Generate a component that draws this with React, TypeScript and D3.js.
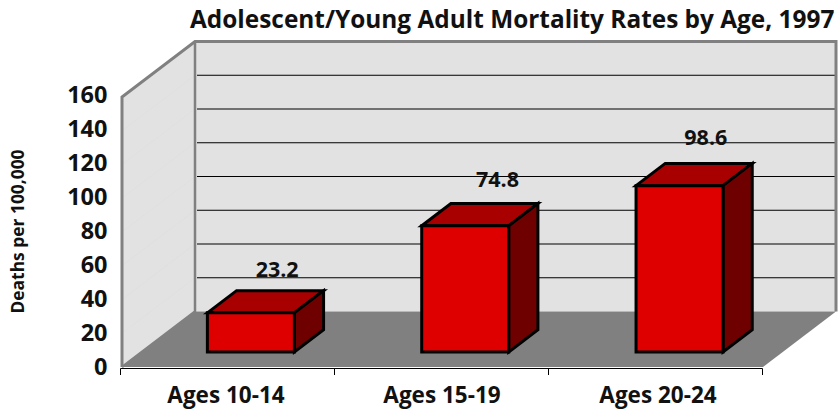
import { useRef, useEffect } from 'react'
import * as d3 from 'd3'

const categories = ['Ages 10-14', 'Ages 15-19', 'Ages 20-24']
const values = [23.2, 74.8, 98.6]
const valueLabels = ['23.2', '74.8', '98.6']
const yTicks = [0, 20, 40, 60, 80, 100, 120, 140, 160]

const width = 839
const height = 411
const uiFont = '"Open Sans", "Noto Sans", sans-serif'

export default function App() {
  const svgRef = useRef<SVGSVGElement | null>(null)

  useEffect(() => {
    if (!svgRef.current) return
    const svg = d3.select(svgRef.current)
    svg.selectAll('*').remove()

    // front plane of the box
    const x = d3.scaleBand().domain(categories).range([120.5, 762.5])
    const y = d3.scaleLinear().domain([0, 160]).range([367, 97])
    // bars and labels sit slightly off the band centres in the original
    const xBar = d3.scaleBand().domain(categories).range([124, 767])
    const xLabel = d3.scaleBand().domain(categories).range([118, 766])
    const yLabel = d3.scaleLinear().domain([0, 160]).range([375, 103])
    const yValueLabel = d3.scaleLinear().domain([0, 160]).range([317, 38.6])
    const valueNudge = [0, 6, 0]
    // depth: 0 = front plane, 1 = back wall
    const depthX = d3.scaleLinear().domain([0, 1]).range([0, 73])
    const depthY = d3.scaleLinear().domain([0, 1]).range([0, -55.5])

    const pt = (px: number, v: number, d: number): [number, number] => [px + depthX(d), y(v) + depthY(d)]
    const poly = (pts: [number, number][]) => d3.line()(pts) + 'Z'

    const x0 = 122
    const x1 = 763

    // left wall
    svg.append('path')
      .attr('d', poly([pt(x0, 0, 0), pt(x0, 160, 0), pt(x0, 160, 1), pt(x0, 0, 1)]))
      .attr('fill', '#e2e2e2')

    // back wall
    svg.append('path')
      .attr('d', poly([pt(x0, 0, 1), pt(x0, 160, 1), pt(x1, 160, 1), pt(x1, 0, 1)]))
      .attr('fill', '#e2e2e2')

    // faint wall grid
    svg.append('g').selectAll('line')
      .data(yTicks.slice(1, -1))
      .enter()
      .append('line')
      .attr('x1', x0).attr('y1', d => y(d))
      .attr('x2', pt(x0, 0, 1)[0]).attr('y2', d => pt(x0, d, 1)[1])
      .attr('stroke', '#dcdcdc')
      .attr('stroke-width', 0.5)

    // floor
    svg.append('path')
      .attr('d', poly([pt(x0, 0, 0), pt(x0, 0, 1), pt(x1, 0, 1), pt(x1, 0, 0)]))
      .attr('fill', '#808080')

    // back wall grid
    svg.append('g').selectAll('line')
      .data(yTicks.slice(1, -1))
      .enter()
      .append('line')
      .attr('x1', pt(x0, 0, 1)[0] + 2).attr('x2', pt(x1, 0, 1)[0])
      .attr('y1', d => pt(x0, d, 1)[1])
      .attr('y2', d => pt(x0, d, 1)[1])
      .attr('stroke', '#000')
      .attr('stroke-width', 1)

    // wall borders
    svg.append('path')
      .attr('d', d3.line()([pt(x0, 0, 0), pt(x0, 160, 0), pt(x0, 160, 1), pt(x1, 160, 1), pt(x1, 0, 1)]))
      .attr('fill', 'none')
      .attr('stroke', '#808080')
      .attr('stroke-width', 3)
    svg.append('path')
      .attr('d', d3.line()([pt(x0, 0, 0), pt(x0, 0, 1), pt(x0, 160, 1)]))
      .attr('fill', 'none')
      .attr('stroke', '#808080')
      .attr('stroke-width', 2.5)

    // bars
    const barW = 87
    const dNear = 0.27
    const dFar = 0.67
    categories.forEach((c, i) => {
      const left = (xBar(c) as number) + xBar.bandwidth() / 2 - barW / 2
      const right = left + barW
      const v = values[i]
      const g = svg.append('g')
        .attr('stroke', '#000')
        .attr('stroke-width', 3)
        .attr('stroke-linejoin', 'miter')
      g.append('path')
        .attr('d', poly([pt(left, v, dNear), pt(left, v, dFar), pt(right, v, dFar), pt(right, v, dNear)]))
        .attr('fill', '#a80000')
      g.append('path')
        .attr('d', poly([pt(right, 0, dNear), pt(right, v, dNear), pt(right, v, dFar), pt(right, 0, dFar)]))
        .attr('fill', '#6e0000')
      g.append('path')
        .attr('d', poly([pt(left, 0, dNear), pt(left, v, dNear), pt(right, v, dNear), pt(right, 0, dNear)]))
        .attr('fill', '#de0000')

      // value label
      svg.append('text')
        .attr('x', (xBar(c) as number) + xBar.bandwidth() / 2 + 46 + valueNudge[i])
        .attr('y', yValueLabel(v))
        .attr('text-anchor', 'middle')
        .style('font-family', uiFont)
        .style('font-size', '21.5px')
        .style('font-weight', 700)
        .style('fill', '#111')
        .text(valueLabels[i])
    })

    // x axis
    const xAxis = svg.append('g')
    const edges = [x.range()[0], ...categories.map(c => (x(c) as number) + x.bandwidth())]
    xAxis.append('line')
      .attr('x1', x.range()[0]).attr('x2', x.range()[1])
      .attr('y1', y(0) + 1.5).attr('y2', y(0) + 1.5)
      .attr('stroke', '#000')
    xAxis.selectAll('line.tick')
      .data(edges)
      .enter()
      .append('line')
      .attr('class', 'tick')
      .attr('x1', d => d).attr('x2', d => d)
      .attr('y1', y(0) + 1.5).attr('y2', y(0) + 8)
      .attr('stroke', '#000')
    xAxis.selectAll('text')
      .data(categories)
      .enter()
      .append('text')
      .attr('x', d => (xLabel(d) as number) + xLabel.bandwidth() / 2)
      .attr('y', 403)
      .attr('text-anchor', 'middle')
      .style('font-family', uiFont)
      .style('font-size', '22.5px')
      .style('font-weight', 700)
      .style('fill', '#111')
      .text(d => d)

    // y axis labels
    svg.append('g').selectAll('text')
      .data(yTicks)
      .enter()
      .append('text')
      .attr('x', 107.5)
      .attr('y', d => yLabel(d))
      .attr('text-anchor', 'end')
      .style('font-family', uiFont)
      .style('font-size', '23.5px')
      .style('font-weight', 700)
      .style('fill', '#111')
      .text(d => d)

    // y axis title
    svg.append('text')
      .attr('transform', 'translate(24,231.5) rotate(-90)')
      .attr('text-anchor', 'middle')
      .style('font-family', uiFont)
      .style('font-size', '17.4px')
      .style('font-weight', 700)
      .style('fill', '#111')
      .text('Deaths per 100,000')

    // title
    svg.append('text')
      .attr('x', 190)
      .attr('y', 28)
      .style('font-family', uiFont)
      .style('font-size', '24.4px')
      .style('font-weight', 700)
      .style('fill', '#111')
      .text('Adolescent/Young Adult Mortality Rates by Age, 1997')
  }, [])

  return (
    <svg
      ref={svgRef}
      width={width}
      height={height}
      style={{ position: 'absolute', left: 0, top: 0, background: '#fff' }}
    />
  )
}
